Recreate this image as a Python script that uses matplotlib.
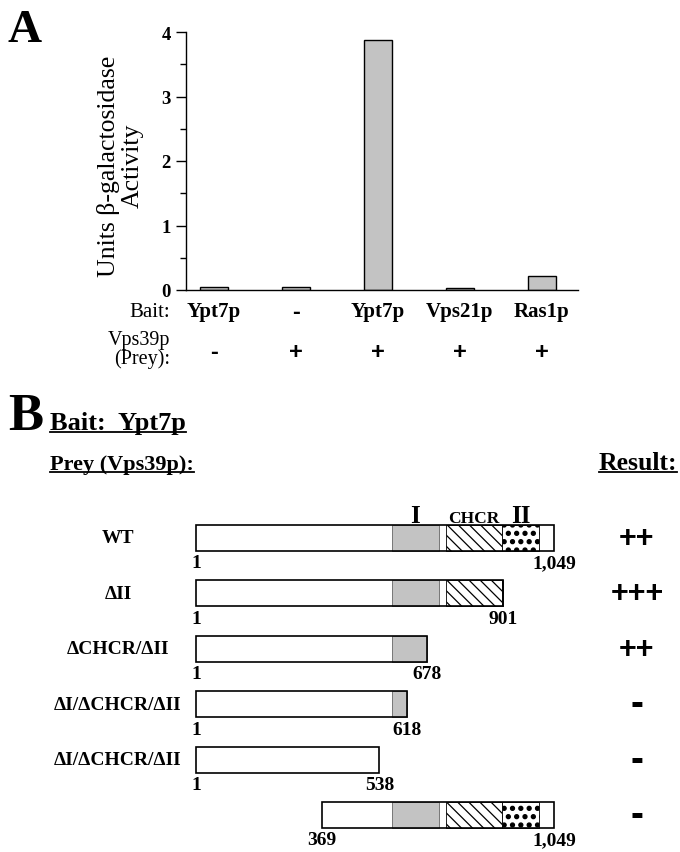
import matplotlib
matplotlib.use('Agg')
import matplotlib.pyplot as plt
import matplotlib.hatch as mhatch
import matplotlib.transforms as mtrans
from matplotlib.patches import Rectangle
from matplotlib.lines import Line2D
from matplotlib.ticker import MultipleLocator

plt.rcParams['font.family'] = 'Liberation Serif'
plt.rcParams['hatch.linewidth'] = 0.9
# bigger stipple dots for domain II
mhatch.SmallFilledCircles.size = 0.24

# panel A: two-hybrid activity
baits = ['Ypt7p', '-', 'Ypt7p', 'Vps21p', 'Ras1p']
prey = ['-', '+', '+', '+', '+']
activity = [0.04, 0.05, 3.88, 0.03, 0.22]

# panel B: Vps39p truncations
constructs = ['WT', 'ΔII', 'ΔCHCR/ΔII', 'ΔI/ΔCHCR/ΔII', 'ΔI/ΔCHCR/ΔII', '']
starts = [1, 1, 1, 1, 1, 369]
ends = [1049, 901, 678, 618, 538, 1049]
results = ['++', '+++', '++', '-', '-', '-']
domain_names = ['I', 'CHCR', 'II']
domain_starts = [575, 733, 897]
domain_ends = [712, 897, 1005]

W, H = 680, 853
fig = plt.figure(figsize=(6.8, 8.53), dpi=100)


def fx(px):
    return px / W


def fy(py):
    return 1 - py / H


# ---------------- panel A ----------------
ax = fig.add_axes([fx(186), fy(291), (578 - 186) / W, (291 - 33) / H])
xs = list(range(len(activity)))
ax.bar(xs, activity, width=0.34, color='#c3c3c3', edgecolor='black', linewidth=1)
ax.set_xlim(-0.341, 4.439)
ax.set_ylim(0, 4)
for s in ['top', 'right']:
    ax.spines[s].set_visible(False)
ax.spines['left'].set_linewidth(1)
ax.spines['bottom'].set_linewidth(1)
ax.set_xticks([])
ax.set_yticks([0, 1, 2, 3, 4])
ax.yaxis.set_minor_locator(MultipleLocator(0.5))
ax.tick_params(axis='y', which='major', length=7, width=1, pad=4, labelsize=13.5)
ax.tick_params(axis='y', which='minor', length=4, width=1)
for lab in ax.get_yticklabels():
    lab.set_fontweight('bold')

fig.text(fx(120), fy(166), 'Units β-galactosidase\nActivity', rotation=90,
         ha='center', va='center', multialignment='center', fontsize=18.5,
         linespacing=1.1)

fig.text(fx(7), fy(42), 'A', fontsize=34, fontweight='bold', va='baseline')

row_tr = mtrans.blended_transform_factory(ax.transData, fig.transFigure)
fig.text(fx(170), fy(317), 'Bait:', ha='right', va='baseline', fontsize=15)
fig.text(fx(170), fy(350), 'Vps39p\n(Prey):', ha='right', va='center',
         multialignment='right', fontsize=14.5, linespacing=0.9)
for i in xs:
    if baits[i] == '-':
        ax.text(i, fy(312), baits[i], transform=row_tr, ha='center', va='center',
                fontsize=17, fontweight='bold', family='Liberation Sans')
    else:
        ax.text(i, fy(317), baits[i], transform=row_tr, ha='center', va='baseline',
                fontsize=15, fontweight='bold')
    ax.text(i, fy(353), prey[i], transform=row_tr, ha='center', va='center',
            fontsize=17, fontweight='bold', family='Liberation Sans')

# ---------------- panel B ----------------
px_per_aa = 0.3416


def aa(px):
    return 1 + (px - 196) / px_per_aa


def row(py):
    return (py - 539) / 55.4


axb = fig.add_axes([0, 0, 1, 1], zorder=-1)
axb.set_xlim(aa(0), aa(W))
axb.set_ylim(row(H), row(0))
axb.axis('off')

fig.text(fx(8), fy(430), 'B', fontsize=38, fontweight='bold', va='baseline')
headers = [
    fig.text(fx(50), fy(430), 'Bait:  Ypt7p', fontsize=19, fontweight='bold', va='baseline'),
    fig.text(fx(50), fy(470), 'Prey (Vps39p):', fontsize=16, fontweight='bold', va='baseline'),
    fig.text(fx(677), fy(470), 'Result:', fontsize=18.5, fontweight='bold', va='baseline', ha='right'),
]
header_base = [430, 470, 470]

dom_fc = ['#c3c3c3', 'white', 'white']
dom_hatch = [None, '\\\\\\', '..']
dom_ec = ['#666666', 'black', 'black']

name_tr = mtrans.blended_transform_factory(fig.transFigure, axb.transData)
h = 0.47
for i in range(len(constructs)):
    s, e = starts[i], ends[i]
    axb.add_patch(Rectangle((s, i - h / 2), e - s, h, facecolor='white', edgecolor='none'))
    for j in range(len(domain_names)):
        a = max(s, domain_starts[j])
        b = min(e, domain_ends[j])
        if b > a:
            axb.add_patch(Rectangle((a, i - h / 2), b - a, h, facecolor=dom_fc[j],
                                    hatch=dom_hatch[j], edgecolor=dom_ec[j], linewidth=0.6))
    axb.add_patch(Rectangle((s, i - h / 2), e - s, h, fill=False, edgecolor='black',
                            linewidth=1.2, zorder=3))
    axb.text(s, i + 0.45, f'{s:,}', ha='center', va='center', fontsize=14, fontweight='bold')
    axb.text(e, i + 0.45, f'{e:,}', ha='center', va='center', fontsize=14, fontweight='bold')
    axb.text(fx(118), i, constructs[i], transform=name_tr, ha='center', va='center',
             fontsize=14, fontweight='bold')
    axb.text(fx(637), i, results[i], transform=name_tr, ha='center', va='center',
             fontsize=28 if results[i] == '-' else 22, fontweight='bold',
             family='Liberation Sans')

for j in range(len(domain_names)):
    axb.text((domain_starts[j] + domain_ends[j]) / 2, row(523), domain_names[j],
             ha='center', va='baseline', fontweight='bold',
             fontsize=12.5 if domain_names[j] == 'CHCR' else 18)

# underline the headers
fig.canvas.draw()
renderer = fig.canvas.get_renderer()
inv = fig.transFigure.inverted()
for t, base in zip(headers, header_base):
    bb = t.get_window_extent(renderer)
    x0 = inv.transform((bb.x0, 0))[0]
    x1 = inv.transform((bb.x1, 0))[0]
    fig.add_artist(Line2D([x0, x1], [fy(base + 3), fy(base + 3)], color='black',
                          linewidth=1.3, transform=fig.transFigure))

fig.savefig('out.png', dpi=100)
